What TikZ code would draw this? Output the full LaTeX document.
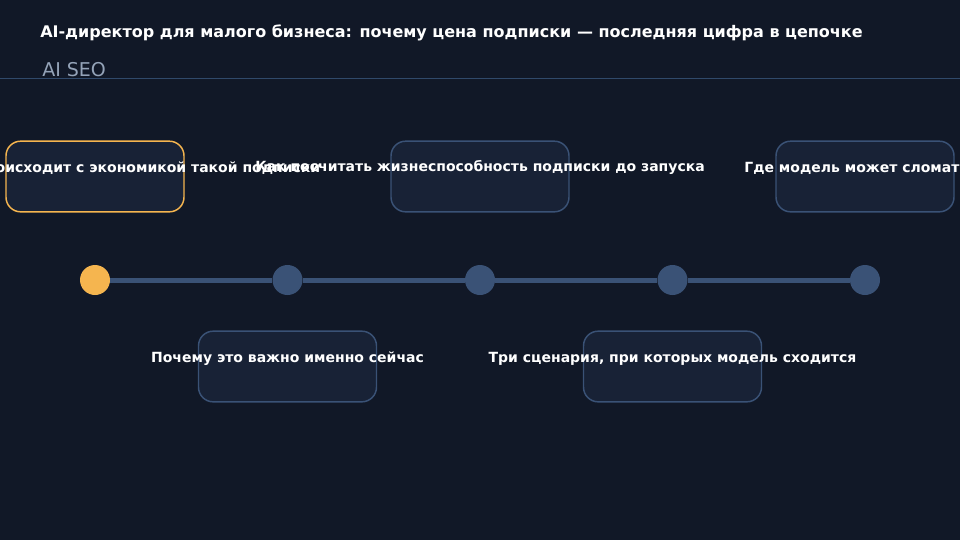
\documentclass[tikz,border=0pt]{standalone}
\usepackage{fontspec}
\setmainfont{DejaVu Sans}
\definecolor{bg}{HTML}{111827}
\definecolor{boxfill}{HTML}{182236}
\definecolor{slate}{HTML}{3A5276}
\definecolor{hline}{HTML}{30496A}
\definecolor{accent}{HTML}{F5B54F}
\definecolor{subgray}{HTML}{94A3B8}
\begin{document}
\begin{tikzpicture}[x=0.75pt,y=-0.75pt,
  card/.style={draw=slate,fill=boxfill,line width=1.1pt,rounded corners=11pt,minimum width=133.5pt,minimum height=53pt,inner sep=0pt},
  activecard/.style={card,draw=accent},
  lbl/.style={anchor=base,text=white,font=\bfseries\fontsize{10.5pt}{12pt}\selectfont,inner sep=0pt},
  dot/.style={circle,fill=slate,minimum size=22.5pt,inner sep=0pt},
  activedot/.style={dot,fill=accent},
  track/.style={draw=slate,line width=3.75pt}]
\useasboundingbox (0,0) rectangle (960,540);
\clip (0,0) rectangle (960,540);
\fill[bg] (0,0) rectangle (960,540);
% header
\node[anchor=base west,inner sep=0pt,text=white,font=\bfseries\fontsize{12pt}{14pt}\selectfont] (title) at (40,37) {AI-директор для малого бизнеса: почему цена подписки — последняя цифра в цепочке};
\node[anchor=base west,inner sep=0pt,text=subgray,font=\fontsize{14.25pt}{17pt}\selectfont] (sub) at (42,76) {AI SEO};
\coordinate (hl) at (0,78);
\coordinate (hr) at (960,78);
\draw[hline,line width=0.75pt] (hl) -- (hr);
% dots
\node[activedot] (d1) at (95,280) {};
\node[dot] (d2) at (287.5,280) {};
\node[dot] (d3) at (480,280) {};
\node[dot] (d4) at (672.5,280) {};
\node[dot] (d5) at (865,280) {};
\draw[track] (d1) -- (d2);
\draw[track] (d2) -- (d3);
\draw[track] (d3) -- (d4);
\draw[track] (d4) -- (d5);
% cards
\node[activecard] (c1) at (95,176.5) {};
\node[card] (c2) at (287.5,366.5) {};
\node[card] (c3) at (480,176.5) {};
\node[card] (c4) at (672.5,366.5) {};
\node[card] (c5) at (865,176.5) {};
% labels
\node[lbl] (l1) at (95,172) {Что реально происходит с экономикой такой подписки};
\node[lbl] (l2) at (287.5,362) {Почему это важно именно сейчас};
\node[lbl] (l3) at (480,171) {Как посчитать жизнеспособность подписки до запуска};
\node[lbl] (l4) at (672.5,362) {Три сценария, при которых модель сходится};
\node[lbl] (l5) at (865,172) {Где модель может сломаться};
\end{tikzpicture}
\end{document}
